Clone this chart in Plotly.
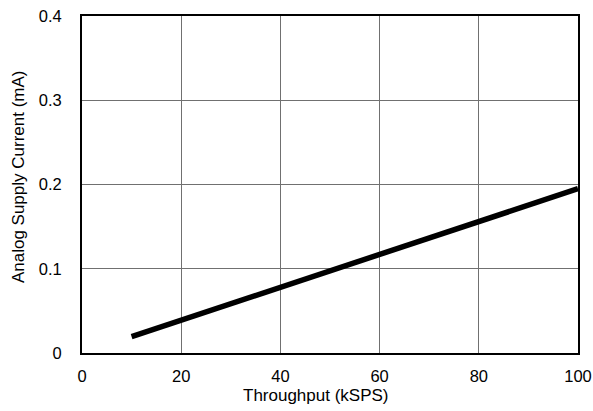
import plotly.graph_objects as go

# Valores
throughput_ksps = [10, 20, 30, 40, 50, 60, 70, 80, 90, 100]
supply_current_ma = [0.0195, 0.039, 0.0585, 0.078, 0.0975, 0.117, 0.1365, 0.156, 0.1755, 0.195]

x_ticks = [0, 20, 40, 60, 80, 100]
y_ticks = [0, 0.1, 0.2, 0.3, 0.4]
y_tick_text = ['0', '0.1', '0.2', '0.3', '0.4']

x_titulo = 'Throughput (kSPS)'
y_titulo = 'Analog Supply Current (mA)'

fig = go.Figure()
fig.add_trace(go.Scatter(
    x=throughput_ksps,
    y=supply_current_ma,
    mode='lines',
    line=dict(color='black', width=5.5),
    showlegend=False
))

fig.update_layout(
    width=593,
    height=411,
    autosize=False,
    margin=dict(t=16, b=58, l=82, r=15),
    paper_bgcolor='white',
    plot_bgcolor='white',
    font=dict(family='Arial, Liberation Sans', size=16.5, color='black'),
    xaxis=dict(
        range=[0, 100],
        tickmode='array',
        tickvals=x_ticks,
        showgrid=True,
        gridcolor='#707070',
        gridwidth=1,
        showline=True,
        linecolor='black',
        linewidth=2,
        mirror=True,
        zeroline=False,
        ticks='',
        ticklabelstandoff=7,
        automargin=False,
    ),
    yaxis=dict(
        range=[0, 0.4],
        tickmode='array',
        tickvals=y_ticks,
        ticktext=y_tick_text,
        showgrid=True,
        gridcolor='#707070',
        gridwidth=1,
        showline=True,
        linecolor='black',
        linewidth=2,
        mirror=True,
        zeroline=False,
        ticks='',
        ticklabelstandoff=15,
        automargin=False,
    ),
)

# títulos dos eixos como anotações, para posicionar igual ao original
fig.add_annotation(text=x_titulo, xref='paper', yref='paper', x=0.472, y=-0.125,
                   xanchor='center', yanchor='middle', showarrow=False, font=dict(size=17))
fig.add_annotation(text=y_titulo, xref='paper', yref='paper', x=-0.129, y=0.522,
                   xanchor='center', yanchor='middle', textangle=-90, showarrow=False,
                   font=dict(size=17))

# tira a margem padrão do body para a figura ocupar a janela inteira
fig.write_html(
    "out.html",
    config={'displayModeBar': False, 'responsive': False},
    post_script="document.body.style.margin='0';",
)
